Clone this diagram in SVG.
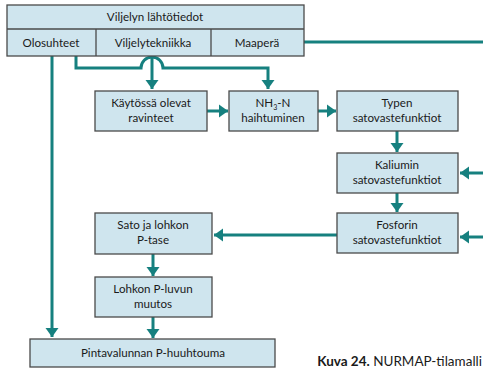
<svg xmlns="http://www.w3.org/2000/svg" width="483" height="370" viewBox="0 0 483 370">
<defs>
<style>
.box{fill:#cfe5ee;stroke:#4a4a4a;stroke-width:1.3}
.t{font-family:Lato,"Open Sans","DejaVu Sans",sans-serif;font-size:11.6px;fill:#1a1a1a;text-anchor:middle}
.c{fill:none;stroke:#16807f;stroke-width:3}
.cap{font-family:Lato,"Open Sans",sans-serif;font-size:13.5px;fill:#1a1a1a}
</style>
<marker id="ah" markerUnits="userSpaceOnUse" markerWidth="14" markerHeight="14" viewBox="0 0 14 14" refX="12" refY="7" orient="auto">
<path d="M3,0.5 L12,7 L3,13.5 z" fill="#16807f"/>
</marker>
</defs>
<rect width="483" height="370" fill="#fff"/>
<g id="connectors">
<path class="c" d="M304,42 H483"/>
<path class="c" d="M52,56 V337" marker-end="url(#ah)"/>
<path class="c" d="M76,56 V68 H141 A11,11 0 0 1 163,68 H268 V89" marker-end="url(#ah)"/>
<path class="c" d="M152,56 V89" marker-end="url(#ah)"/>
<path class="c" d="M207,111 H228" marker-end="url(#ah)"/>
<path class="c" d="M318,111 H336" marker-end="url(#ah)"/>
<path class="c" d="M397,131 V152" marker-end="url(#ah)"/>
<path class="c" d="M483,173 H460" marker-end="url(#ah)"/>
<path class="c" d="M397,193 V212" marker-end="url(#ah)"/>
<path class="c" d="M483,237 H460" marker-end="url(#ah)"/>
<path class="c" d="M337,235 H214" marker-end="url(#ah)"/>
<path class="c" d="M153,254 V276" marker-end="url(#ah)"/>
<path class="c" d="M153,317 V338" marker-end="url(#ah)"/>
</g>
<g id="lahtotiedot">
<rect class="box" x="7" y="5" width="297" height="51"/>
<line x1="7" y1="29" x2="304" y2="29" stroke="#4a4a4a" stroke-width="1.3"/>
<line x1="96" y1="29" x2="96" y2="56" stroke="#4a4a4a" stroke-width="1.3"/>
<line x1="211" y1="29" x2="211" y2="56" stroke="#4a4a4a" stroke-width="1.3"/>
<text class="t" x="155" y="21">Viljelyn lähtötiedot</text>
<text class="t" x="51" y="47">Olosuhteet</text>
<text class="t" x="153" y="47">Viljelytekniikka</text>
<text class="t" x="257" y="47">Maaperä</text>
</g>
<g id="kaytossa">
<rect class="box" x="95" y="91" width="112" height="40"/>
<text class="t" x="151" y="107">Käytössä olevat</text>
<text class="t" x="151" y="122">ravinteet</text>
</g>
<g id="nh3">
<rect class="box" x="229" y="91" width="89" height="40"/>
<text class="t" x="273" y="107">NH<tspan font-size="7" dy="3">3</tspan><tspan dy="-3">-N</tspan></text>
<text class="t" x="273" y="122">haihtuminen</text>
</g>
<g id="typen">
<rect class="box" x="337" y="91" width="121" height="40"/>
<text class="t" x="397" y="107">Typen</text>
<text class="t" x="397" y="122">satovastefunktiot</text>
</g>
<g id="kaliumin">
<rect class="box" x="337" y="153" width="121" height="40"/>
<text class="t" x="397" y="169">Kaliumin</text>
<text class="t" x="397" y="184">satovastefunktiot</text>
</g>
<g id="fosforin">
<rect class="box" x="337" y="213" width="121" height="40"/>
<text class="t" x="397" y="229">Fosforin</text>
<text class="t" x="397" y="244">satovastefunktiot</text>
</g>
<g id="sato">
<rect class="box" x="95" y="213" width="117" height="41"/>
<text class="t" x="153" y="229">Sato ja lohkon</text>
<text class="t" x="153" y="244">P-tase</text>
</g>
<g id="lohkon">
<rect class="box" x="95" y="277" width="117" height="40"/>
<text class="t" x="153" y="293">Lohkon P-luvun</text>
<text class="t" x="153" y="308">muutos</text>
</g>
<g id="pintavalunnan">
<rect class="box" x="30" y="339" width="245" height="28"/>
<text class="t" x="153" y="357">Pintavalunnan P-huuhtouma</text>
</g>
<text class="cap" x="482" y="366" text-anchor="end"><tspan font-weight="bold">Kuva 24.</tspan> NURMAP-tilamalli</text>
</svg>
